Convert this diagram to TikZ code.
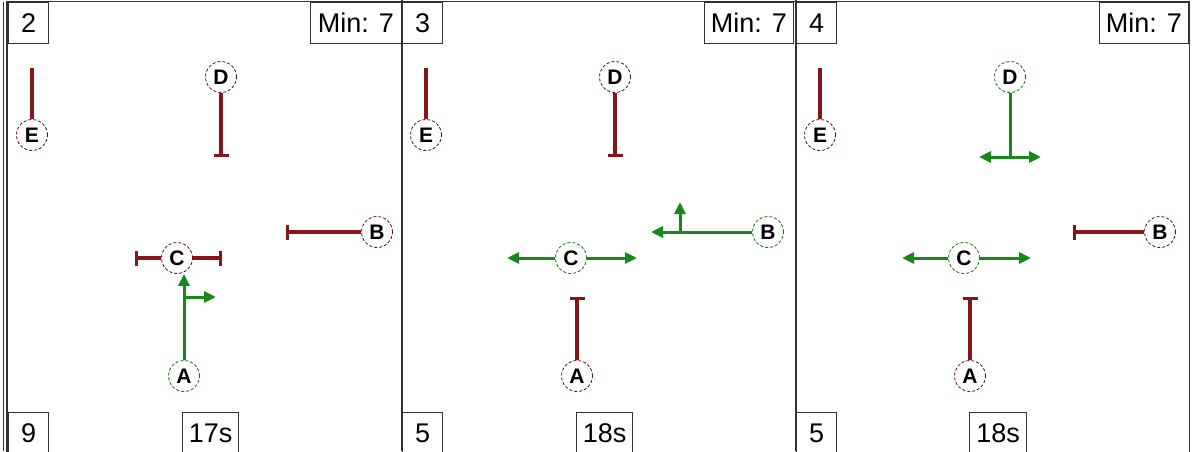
\documentclass[tikz,border=0pt]{standalone}
\usepackage{fontspec}
\setmainfont{Liberation Sans}
\usetikzlibrary{arrows.meta}
\definecolor{stopred}{RGB}{135,20,25}
\definecolor{gogreen}{RGB}{25,135,25}
\definecolor{framegray}{RGB}{50,50,50}

\begin{document}
\begin{tikzpicture}[x=1pt,y=-1pt,
    light/.style={circle,fill=white,draw,densely dashed,line width=0.8pt,inner sep=0pt,minimum size=31pt,font=\fontsize{21}{21}\selectfont\bfseries},
    redlight/.style={light,draw=stopred!60!black},
    greenlight/.style={light,draw=gogreen!80!black},
    redline/.style={draw=stopred,line width=3.4pt},
    stopline/.style={redline,-{Bar[width=15pt]}},
    goline/.style={draw=gogreen,line width=3pt,-{Triangle[length=12pt,width=11pt]}},
    gotwo/.style={goline,{Triangle[length=12pt,width=11pt]}-{Triangle[length=12pt,width=11pt]}},
    cornerbox/.style={draw=framegray,line width=1.3pt,fill=white,inner sep=0pt,minimum height=41pt,font=\fontsize{27}{27}\selectfont}]
    \useasboundingbox (0,0) rectangle (1192,451);
    \fill[white] (0,0) rectangle (1192,451);
    \draw[framegray,line width=1.6pt] (7,1.5) rectangle (1189.5,460);
    \draw[framegray,line width=1pt] (3.5,1.5) -- (3.5,451);
    \draw[framegray,line width=1.3pt] (402,0) -- (402,451);
    \draw[framegray,line width=1.3pt] (796,0) -- (796,451);

    % panel 2
    \node[redlight] (e2) at (32,135) {E};
    \node[redlight] (d2) at (221,77) {D};
    \node[redlight] (b2) at (377,232) {B};
    \node[redlight] (c2) at (177,258) {C};
    \node[greenlight] (a2) at (184,376) {A};
    \coordinate (e2end) at (32,68);
    \coordinate (d2end) at (221,157);
    \coordinate (b2end) at (286,232);
    \coordinate (c2left) at (135,258);
    \coordinate (c2right) at (222,258);
    \coordinate (a2turn) at (184,297);
    \coordinate (a2right) at (216,297);
    \draw[redline] (e2) -- (e2end);
    \draw[stopline] (d2) -- (d2end);
    \draw[stopline] (b2) -- (b2end);
    \draw[stopline] (c2) -- (c2left);
    \draw[stopline] (c2) -- (c2right);
    \draw[goline] (a2) -- (a2 |- c2.south);
    \draw[goline] (a2turn) -- (a2right);
    \node[cornerbox,anchor=north west,minimum width=40pt] (n2) at (8,2) {2};
    \node[cornerbox,anchor=north east,minimum width=91pt] (m2) at (402,2) {Min: 7};
    \node[cornerbox,anchor=north west,minimum width=40pt] (q2) at (8,412) {9};
    \node[cornerbox,anchor=north west,minimum width=56pt] (t2) at (182,412) {17s};

    % panel 3
    \begin{scope}[xshift=394pt]
    \node[redlight] (e3) at (32,135) {E};
    \node[redlight] (d3) at (221,77) {D};
    \node[greenlight] (b3) at (374,232) {B};
    \node[greenlight] (c3) at (177,258) {C};
    \node[redlight] (a3) at (183,376) {A};
    \coordinate (e3end) at (32,68);
    \coordinate (d3end) at (221,157);
    \coordinate (b3end) at (257,232);
    \coordinate (b3turn) at (286,232);
    \coordinate (b3up) at (286,202);
    \coordinate (c3left) at (113,258);
    \coordinate (c3right) at (243,258);
    \coordinate (a3end) at (183,297);
    \draw[redline] (e3) -- (e3end);
    \draw[stopline] (d3) -- (d3end);
    \draw[goline] (b3) -- (b3end);
    \draw[goline] (b3turn) -- (b3up);
    \draw[goline] (c3) -- (c3left);
    \draw[goline] (c3) -- (c3right);
    \draw[stopline] (a3) -- (a3end);
    \node[cornerbox,anchor=north west,minimum width=40pt] (n3) at (8,2) {3};
    \node[cornerbox,anchor=north east,minimum width=89pt] (m3) at (400,2) {Min: 7};
    \node[cornerbox,anchor=north west,minimum width=40pt] (q3) at (8,412) {5};
    \node[cornerbox,anchor=north west,minimum width=56pt] (t3) at (182,412) {18s};
    \end{scope}

    % panel 4
    \begin{scope}[xshift=788pt]
    \node[redlight] (e4) at (32,135) {E};
    \node[greenlight] (d4) at (222,77) {D};
    \node[redlight] (b4) at (372,232) {B};
    \node[greenlight] (c4) at (176,258) {C};
    \node[redlight] (a4) at (182,376) {A};
    \coordinate (e4end) at (32,68);
    \coordinate (d4end) at (222,157);
    \coordinate (d4left) at (191,157);
    \coordinate (d4right) at (253,157);
    \coordinate (b4end) at (285,232);
    \coordinate (c4left) at (114,258);
    \coordinate (c4right) at (243,258);
    \coordinate (a4end) at (182,297);
    \draw[redline] (e4) -- (e4end);
    \draw[goline,-] (d4) -- (d4end);
    \draw[gotwo] (d4left) -- (d4right);
    \draw[stopline] (b4) -- (b4end);
    \draw[goline] (c4) -- (c4left);
    \draw[goline] (c4) -- (c4right);
    \draw[stopline] (a4) -- (a4end);
    \node[cornerbox,anchor=north west,minimum width=40pt] (n4) at (8,2) {4};
    \node[cornerbox,anchor=north east,minimum width=89pt] (m4) at (401,2) {Min: 7};
    \node[cornerbox,anchor=north west,minimum width=40pt] (q4) at (8,412) {5};
    \node[cornerbox,anchor=north west,minimum width=57pt] (t4) at (181,412) {18s};
    \end{scope}
\end{tikzpicture}
\end{document}
